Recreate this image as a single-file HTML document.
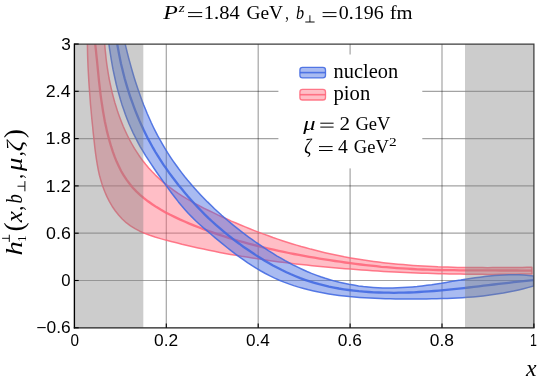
<!DOCTYPE html>
<html><head><meta charset="utf-8"><title>plot</title>
<style>html,body{margin:0;padding:0;background:#fff;}svg{display:block;will-change:transform;}</style></head>
<body>
<svg width="540" height="387" viewBox="0 0 540 387">
<rect width="540" height="387" fill="#fff"/>
<defs><clipPath id="cp"><rect x="74.4" y="44.0" width="459.5" height="283.8"/></clipPath></defs>
<line x1="166.3" y1="44.0" x2="166.3" y2="327.8" stroke="#000" stroke-opacity="0.36" stroke-width="1.2"/>
<line x1="258.2" y1="44.0" x2="258.2" y2="327.8" stroke="#000" stroke-opacity="0.36" stroke-width="1.2"/>
<line x1="350.1" y1="44.0" x2="350.1" y2="327.8" stroke="#000" stroke-opacity="0.36" stroke-width="1.2"/>
<line x1="442.0" y1="44.0" x2="442.0" y2="327.8" stroke="#000" stroke-opacity="0.36" stroke-width="1.2"/>
<line x1="74.4" y1="91.3" x2="533.9" y2="91.3" stroke="#000" stroke-opacity="0.36" stroke-width="1.2"/>
<line x1="74.4" y1="138.6" x2="533.9" y2="138.6" stroke="#000" stroke-opacity="0.36" stroke-width="1.2"/>
<line x1="74.4" y1="185.9" x2="533.9" y2="185.9" stroke="#000" stroke-opacity="0.36" stroke-width="1.2"/>
<line x1="74.4" y1="233.2" x2="533.9" y2="233.2" stroke="#000" stroke-opacity="0.36" stroke-width="1.2"/>
<line x1="74.4" y1="280.5" x2="533.9" y2="280.5" stroke="#000" stroke-opacity="0.36" stroke-width="1.2"/>
<g clip-path="url(#cp)">
<path d="M103.3 30.2L104.7 44.1L105.1 48.9L105.6 53.6L106.1 58.5L106.7 63.3L107.4 68.2L108.2 73.1L109.0 78.0L110.0 82.9L111.1 87.8L112.2 92.7L113.5 97.6L114.8 102.5L116.3 107.3L117.8 112.1L119.5 116.8L121.3 121.5L123.2 126.2L125.2 130.7L127.3 135.2L129.5 139.7L131.9 144.0L134.4 148.3L137.0 152.4L139.7 156.5L142.6 160.5L145.6 164.3L148.7 168.0L152.0 171.6L155.4 175.1L158.9 178.4L162.5 181.6L166.3 184.7L170.2 187.7L174.2 190.6L178.2 193.4L182.4 196.1L186.6 198.7L190.9 201.2L195.3 203.6L199.7 206.0L204.2 208.3L208.7 210.5L213.2 212.7L217.7 214.9L222.3 217.0L226.8 219.0L231.4 221.1L236.0 223.0L240.6 225.0L245.2 226.9L249.8 228.8L254.4 230.6L259.1 232.4L263.7 234.1L268.4 235.8L273.0 237.5L277.7 239.1L282.4 240.7L287.1 242.2L291.8 243.7L296.5 245.1L301.2 246.5L306.0 247.8L310.7 249.1L315.5 250.3L320.2 251.5L325.0 252.7L329.8 253.8L334.6 254.8L339.5 255.8L344.3 256.8L349.2 257.7L354.0 258.5L358.9 259.3L363.8 260.1L368.7 260.8L373.6 261.5L378.5 262.1L383.4 262.7L388.3 263.2L393.3 263.7L398.2 264.2L403.2 264.6L408.1 265.0L413.1 265.4L418.0 265.7L423.0 266.0L428.0 266.3L432.9 266.5L437.9 266.8L442.9 266.9L447.8 267.1L452.8 267.3L457.8 267.4L462.8 267.5L467.7 267.5L472.7 267.6L477.7 267.6L482.6 267.6L487.6 267.7L492.5 267.6L497.5 267.6L502.4 267.6L507.4 267.5L512.3 267.5L517.2 267.4L522.1 267.4L527.0 267.3L531.9 267.2L532.0 274.0L526.5 274.1L521.0 274.1L515.5 274.2L510.0 274.3L504.5 274.3L499.0 274.3L493.5 274.4L488.0 274.4L482.5 274.3L477.0 274.3L471.5 274.3L466.0 274.2L460.5 274.1L455.0 274.0L449.5 273.9L444.0 273.8L438.4 273.7L432.9 273.5L427.4 273.3L421.9 273.2L416.4 273.0L410.9 272.7L405.4 272.5L399.9 272.2L394.4 272.0L388.9 271.7L383.4 271.4L377.9 271.0L372.4 270.7L366.9 270.3L361.5 270.0L356.0 269.6L350.5 269.1L345.0 268.7L339.5 268.3L334.0 267.8L328.6 267.3L323.1 266.8L317.6 266.2L312.2 265.7L306.7 265.1L301.2 264.5L295.8 263.9L290.3 263.3L284.9 262.6L279.4 261.9L274.0 261.2L268.5 260.4L263.1 259.6L257.7 258.8L252.2 258.0L246.8 257.1L241.4 256.3L235.9 255.3L230.5 254.4L225.1 253.4L219.7 252.4L214.3 251.3L208.9 250.2L203.5 249.1L198.1 247.9L192.7 246.7L187.3 245.4L181.9 244.2L176.5 242.8L171.1 241.5L165.7 240.1L160.4 238.6L155.0 237.0L149.8 235.3L144.7 233.4L139.7 231.2L135.0 228.7L130.5 225.9L126.2 222.7L122.2 219.0L118.6 215.0L115.2 210.7L112.1 206.2L109.3 201.4L106.8 196.4L104.6 191.3L102.6 186.1L101.0 180.8L99.5 175.5L98.3 170.1L97.3 164.6L96.4 159.2L95.6 153.7L94.9 148.2L94.3 142.6L93.7 137.1L93.1 131.7L92.6 126.2L92.0 120.7L91.5 115.3L91.0 109.8L90.5 104.4L90.1 98.9L89.7 93.5L89.3 88.1L88.9 82.6L88.6 77.1L88.3 71.7L88.0 66.2L87.8 60.6L87.6 55.1L87.5 49.5L87.4 43.9L87.1 29.9Z" fill="#ff6478" fill-opacity="0.42" stroke="none"/>
<path d="M103.3 30.2L104.7 44.1L105.1 48.9L105.6 53.6L106.1 58.5L106.7 63.3L107.4 68.2L108.2 73.1L109.0 78.0L110.0 82.9L111.1 87.8L112.2 92.7L113.5 97.6L114.8 102.5L116.3 107.3L117.8 112.1L119.5 116.8L121.3 121.5L123.2 126.2L125.2 130.7L127.3 135.2L129.5 139.7L131.9 144.0L134.4 148.3L137.0 152.4L139.7 156.5L142.6 160.5L145.6 164.3L148.7 168.0L152.0 171.6L155.4 175.1L158.9 178.4L162.5 181.6L166.3 184.7L170.2 187.7L174.2 190.6L178.2 193.4L182.4 196.1L186.6 198.7L190.9 201.2L195.3 203.6L199.7 206.0L204.2 208.3L208.7 210.5L213.2 212.7L217.7 214.9L222.3 217.0L226.8 219.0L231.4 221.1L236.0 223.0L240.6 225.0L245.2 226.9L249.8 228.8L254.4 230.6L259.1 232.4L263.7 234.1L268.4 235.8L273.0 237.5L277.7 239.1L282.4 240.7L287.1 242.2L291.8 243.7L296.5 245.1L301.2 246.5L306.0 247.8L310.7 249.1L315.5 250.3L320.2 251.5L325.0 252.7L329.8 253.8L334.6 254.8L339.5 255.8L344.3 256.8L349.2 257.7L354.0 258.5L358.9 259.3L363.8 260.1L368.7 260.8L373.6 261.5L378.5 262.1L383.4 262.7L388.3 263.2L393.3 263.7L398.2 264.2L403.2 264.6L408.1 265.0L413.1 265.4L418.0 265.7L423.0 266.0L428.0 266.3L432.9 266.5L437.9 266.8L442.9 266.9L447.8 267.1L452.8 267.3L457.8 267.4L462.8 267.5L467.7 267.5L472.7 267.6L477.7 267.6L482.6 267.6L487.6 267.7L492.5 267.6L497.5 267.6L502.4 267.6L507.4 267.5L512.3 267.5L517.2 267.4L522.1 267.4L527.0 267.3L531.9 267.2L532.0 274.0L526.5 274.1L521.0 274.1L515.5 274.2L510.0 274.3L504.5 274.3L499.0 274.3L493.5 274.4L488.0 274.4L482.5 274.3L477.0 274.3L471.5 274.3L466.0 274.2L460.5 274.1L455.0 274.0L449.5 273.9L444.0 273.8L438.4 273.7L432.9 273.5L427.4 273.3L421.9 273.2L416.4 273.0L410.9 272.7L405.4 272.5L399.9 272.2L394.4 272.0L388.9 271.7L383.4 271.4L377.9 271.0L372.4 270.7L366.9 270.3L361.5 270.0L356.0 269.6L350.5 269.1L345.0 268.7L339.5 268.3L334.0 267.8L328.6 267.3L323.1 266.8L317.6 266.2L312.2 265.7L306.7 265.1L301.2 264.5L295.8 263.9L290.3 263.3L284.9 262.6L279.4 261.9L274.0 261.2L268.5 260.4L263.1 259.6L257.7 258.8L252.2 258.0L246.8 257.1L241.4 256.3L235.9 255.3L230.5 254.4L225.1 253.4L219.7 252.4L214.3 251.3L208.9 250.2L203.5 249.1L198.1 247.9L192.7 246.7L187.3 245.4L181.9 244.2L176.5 242.8L171.1 241.5L165.7 240.1L160.4 238.6L155.0 237.0L149.8 235.3L144.7 233.4L139.7 231.2L135.0 228.7L130.5 225.9L126.2 222.7L122.2 219.0L118.6 215.0L115.2 210.7L112.1 206.2L109.3 201.4L106.8 196.4L104.6 191.3L102.6 186.1L101.0 180.8L99.5 175.5L98.3 170.1L97.3 164.6L96.4 159.2L95.6 153.7L94.9 148.2L94.3 142.6L93.7 137.1L93.1 131.7L92.6 126.2L92.0 120.7L91.5 115.3L91.0 109.8L90.5 104.4L90.1 98.9L89.7 93.5L89.3 88.1L88.9 82.6L88.6 77.1L88.3 71.7L88.0 66.2L87.8 60.6L87.6 55.1L87.5 49.5L87.4 43.9L87.1 29.9Z" fill="none" stroke="#ff6478" stroke-opacity="0.85" stroke-width="1.5" stroke-linejoin="round"/>
<path d="M93.8 30.1L95.2 44.0L95.8 49.2L96.3 54.4L96.9 59.6L97.4 64.8L97.9 69.9L98.4 75.1L98.9 80.2L99.5 85.4L100.1 90.5L100.7 95.6L101.4 100.7L102.2 105.8L103.0 111.0L103.9 116.1L104.8 121.2L105.9 126.3L107.0 131.4L108.3 136.5L109.7 141.6L111.2 146.7L112.8 151.7L114.6 156.7L116.6 161.6L118.8 166.3L121.1 171.0L123.7 175.4L126.5 179.7L129.6 183.8L132.8 187.7L136.3 191.4L140.0 194.8L143.9 198.1L148.0 201.3L152.2 204.3L156.5 207.1L161.0 209.8L165.6 212.4L170.2 214.8L175.0 217.1L179.7 219.4L184.6 221.5L189.4 223.6L194.3 225.6L199.2 227.5L204.0 229.4L208.9 231.2L213.8 232.9L218.7 234.6L223.6 236.2L228.6 237.8L233.5 239.3L238.4 240.8L243.4 242.2L248.4 243.6L253.4 244.9L258.4 246.2L263.4 247.4L268.5 248.6L273.5 249.7L278.6 250.8L283.7 251.9L288.8 253.0L293.9 254.0L299.0 254.9L304.1 255.9L309.2 256.8L314.4 257.7L319.5 258.6L324.6 259.4L329.8 260.2L334.9 261.0L340.1 261.7L345.2 262.5L350.4 263.2L355.5 263.9L360.7 264.5L365.8 265.1L371.0 265.7L376.2 266.2L381.3 266.8L386.5 267.2L391.7 267.7L396.9 268.1L402.1 268.4L407.2 268.7L412.4 269.0L417.6 269.3L422.8 269.5L428.0 269.7L433.2 269.8L438.4 270.0L443.6 270.1L448.8 270.2L454.0 270.2L459.2 270.3L464.4 270.3L469.6 270.4L474.8 270.4L480.0 270.4L485.2 270.4L490.4 270.4L495.6 270.4L500.8 270.5L506.0 270.5L511.2 270.5L516.4 270.5L521.6 270.6L526.8 270.6L532.0 270.7" fill="none" stroke="#ff6478" stroke-opacity="0.85" stroke-width="2.3"/>

<path d="M121.8 30.4L125.2 44.0L126.3 48.7L127.5 53.5L128.7 58.2L130.0 62.9L131.3 67.6L132.6 72.3L134.0 77.0L135.5 81.7L137.0 86.3L138.6 91.0L140.2 95.6L141.9 100.2L143.6 104.7L145.5 109.3L147.3 113.8L149.3 118.3L151.3 122.8L153.4 127.2L155.6 131.6L157.8 135.9L160.2 140.2L162.6 144.4L165.1 148.6L167.6 152.7L170.3 156.8L173.0 160.8L175.8 164.8L178.7 168.8L181.6 172.6L184.6 176.5L187.7 180.3L190.9 184.0L194.1 187.7L197.3 191.3L200.7 194.9L204.1 198.4L207.5 201.9L211.0 205.3L214.5 208.7L218.1 212.0L221.7 215.3L225.4 218.5L229.1 221.7L232.9 224.8L236.7 227.9L240.5 230.9L244.4 233.9L248.3 236.8L252.3 239.7L256.2 242.5L260.3 245.2L264.3 247.9L268.4 250.6L272.6 253.2L276.7 255.8L280.9 258.2L285.2 260.7L289.5 263.0L293.8 265.3L298.2 267.4L302.6 269.5L307.0 271.5L311.5 273.4L316.1 275.1L320.7 276.8L325.3 278.3L330.0 279.7L334.7 281.1L339.4 282.3L344.1 283.3L348.9 284.3L353.7 285.1L358.6 285.9L363.4 286.5L368.3 287.0L373.2 287.4L378.0 287.7L382.9 287.9L387.8 288.0L392.7 287.9L397.6 287.8L402.5 287.6L407.4 287.3L412.3 286.9L417.1 286.5L422.0 285.9L426.9 285.3L431.7 284.7L436.5 283.9L441.4 283.2L446.2 282.4L451.0 281.6L455.8 280.8L460.7 280.1L465.5 279.3L470.3 278.6L475.1 277.8L480.0 277.2L484.8 276.6L489.6 276.1L494.5 275.6L499.3 275.2L504.2 274.9L509.1 274.8L514.0 274.7L518.9 274.8L523.8 275.0L528.7 275.4L533.7 275.9L533.6 286.0L528.6 287.4L523.6 288.7L518.6 289.9L513.6 291.0L508.5 292.0L503.4 293.0L498.4 293.8L493.3 294.6L488.2 295.3L483.1 295.9L478.0 296.4L472.8 296.9L467.7 297.3L462.6 297.7L457.4 298.0L452.3 298.2L447.1 298.5L442.0 298.6L436.8 298.8L431.7 298.8L426.5 298.9L421.3 298.9L416.2 299.0L411.0 299.0L405.8 298.9L400.7 298.9L395.5 298.9L390.4 298.8L385.2 298.7L380.1 298.5L374.9 298.3L369.8 298.1L364.7 297.8L359.5 297.4L354.4 297.0L349.3 296.6L344.1 296.0L339.0 295.4L333.9 294.7L328.8 293.9L323.7 293.0L318.6 292.1L313.6 291.0L308.5 289.8L303.6 288.5L298.6 287.1L293.7 285.6L288.8 283.9L284.0 282.1L279.3 280.2L274.6 278.1L270.0 275.9L265.4 273.5L260.9 271.0L256.5 268.4L252.1 265.7L247.8 262.9L243.6 259.9L239.3 256.9L235.2 253.8L231.0 250.7L227.0 247.5L222.9 244.2L218.9 240.9L214.9 237.6L211.0 234.3L207.1 230.9L203.2 227.6L199.4 224.2L195.6 220.7L192.0 217.1L188.4 213.5L185.0 209.7L181.6 205.8L178.4 201.9L175.2 197.8L172.1 193.7L169.0 189.5L166.0 185.4L163.0 181.2L160.0 177.0L157.0 172.7L154.1 168.5L151.2 164.2L148.4 159.9L145.6 155.6L142.9 151.2L140.3 146.8L137.9 142.3L135.5 137.7L133.2 133.1L131.1 128.5L129.0 123.8L127.1 119.0L125.3 114.2L123.6 109.3L121.9 104.4L120.4 99.5L119.0 94.5L117.6 89.6L116.3 84.5L115.2 79.5L114.1 74.5L113.0 69.4L112.1 64.3L111.2 59.2L110.4 54.2L109.6 49.1L108.9 44.0L106.7 30.2Z" fill="#4169e1" fill-opacity="0.45" stroke="none"/>
<path d="M121.8 30.4L125.2 44.0L126.3 48.7L127.5 53.5L128.7 58.2L130.0 62.9L131.3 67.6L132.6 72.3L134.0 77.0L135.5 81.7L137.0 86.3L138.6 91.0L140.2 95.6L141.9 100.2L143.6 104.7L145.5 109.3L147.3 113.8L149.3 118.3L151.3 122.8L153.4 127.2L155.6 131.6L157.8 135.9L160.2 140.2L162.6 144.4L165.1 148.6L167.6 152.7L170.3 156.8L173.0 160.8L175.8 164.8L178.7 168.8L181.6 172.6L184.6 176.5L187.7 180.3L190.9 184.0L194.1 187.7L197.3 191.3L200.7 194.9L204.1 198.4L207.5 201.9L211.0 205.3L214.5 208.7L218.1 212.0L221.7 215.3L225.4 218.5L229.1 221.7L232.9 224.8L236.7 227.9L240.5 230.9L244.4 233.9L248.3 236.8L252.3 239.7L256.2 242.5L260.3 245.2L264.3 247.9L268.4 250.6L272.6 253.2L276.7 255.8L280.9 258.2L285.2 260.7L289.5 263.0L293.8 265.3L298.2 267.4L302.6 269.5L307.0 271.5L311.5 273.4L316.1 275.1L320.7 276.8L325.3 278.3L330.0 279.7L334.7 281.1L339.4 282.3L344.1 283.3L348.9 284.3L353.7 285.1L358.6 285.9L363.4 286.5L368.3 287.0L373.2 287.4L378.0 287.7L382.9 287.9L387.8 288.0L392.7 287.9L397.6 287.8L402.5 287.6L407.4 287.3L412.3 286.9L417.1 286.5L422.0 285.9L426.9 285.3L431.7 284.7L436.5 283.9L441.4 283.2L446.2 282.4L451.0 281.6L455.8 280.8L460.7 280.1L465.5 279.3L470.3 278.6L475.1 277.8L480.0 277.2L484.8 276.6L489.6 276.1L494.5 275.6L499.3 275.2L504.2 274.9L509.1 274.8L514.0 274.7L518.9 274.8L523.8 275.0L528.7 275.4L533.7 275.9L533.6 286.0L528.6 287.4L523.6 288.7L518.6 289.9L513.6 291.0L508.5 292.0L503.4 293.0L498.4 293.8L493.3 294.6L488.2 295.3L483.1 295.9L478.0 296.4L472.8 296.9L467.7 297.3L462.6 297.7L457.4 298.0L452.3 298.2L447.1 298.5L442.0 298.6L436.8 298.8L431.7 298.8L426.5 298.9L421.3 298.9L416.2 299.0L411.0 299.0L405.8 298.9L400.7 298.9L395.5 298.9L390.4 298.8L385.2 298.7L380.1 298.5L374.9 298.3L369.8 298.1L364.7 297.8L359.5 297.4L354.4 297.0L349.3 296.6L344.1 296.0L339.0 295.4L333.9 294.7L328.8 293.9L323.7 293.0L318.6 292.1L313.6 291.0L308.5 289.8L303.6 288.5L298.6 287.1L293.7 285.6L288.8 283.9L284.0 282.1L279.3 280.2L274.6 278.1L270.0 275.9L265.4 273.5L260.9 271.0L256.5 268.4L252.1 265.7L247.8 262.9L243.6 259.9L239.3 256.9L235.2 253.8L231.0 250.7L227.0 247.5L222.9 244.2L218.9 240.9L214.9 237.6L211.0 234.3L207.1 230.9L203.2 227.6L199.4 224.2L195.6 220.7L192.0 217.1L188.4 213.5L185.0 209.7L181.6 205.8L178.4 201.9L175.2 197.8L172.1 193.7L169.0 189.5L166.0 185.4L163.0 181.2L160.0 177.0L157.0 172.7L154.1 168.5L151.2 164.2L148.4 159.9L145.6 155.6L142.9 151.2L140.3 146.8L137.9 142.3L135.5 137.7L133.2 133.1L131.1 128.5L129.0 123.8L127.1 119.0L125.3 114.2L123.6 109.3L121.9 104.4L120.4 99.5L119.0 94.5L117.6 89.6L116.3 84.5L115.2 79.5L114.1 74.5L113.0 69.4L112.1 64.3L111.2 59.2L110.4 54.2L109.6 49.1L108.9 44.0L106.7 30.2Z" fill="none" stroke="#4169e1" stroke-opacity="0.88" stroke-width="1.5" stroke-linejoin="round"/>
<path d="M114.6 30.2L117.2 44.0L118.1 48.9L119.0 53.8L120.0 58.8L121.0 63.7L122.2 68.5L123.4 73.4L124.6 78.3L126.0 83.1L127.4 87.9L128.9 92.7L130.5 97.5L132.2 102.2L133.9 106.9L135.7 111.6L137.6 116.3L139.5 120.9L141.6 125.4L143.7 130.0L145.9 134.5L148.1 138.9L150.5 143.3L152.9 147.7L155.4 152.0L158.0 156.2L160.7 160.4L163.4 164.6L166.3 168.7L169.2 172.8L172.1 176.8L175.2 180.8L178.2 184.7L181.4 188.6L184.6 192.5L187.8 196.3L191.1 200.0L194.5 203.8L197.9 207.4L201.4 211.0L204.9 214.6L208.5 218.1L212.2 221.5L215.9 224.9L219.7 228.2L223.5 231.4L227.4 234.6L231.3 237.7L235.2 240.8L239.3 243.7L243.3 246.7L247.5 249.5L251.6 252.3L255.8 255.1L260.1 257.8L264.3 260.4L268.7 262.9L273.0 265.4L277.5 267.7L281.9 270.0L286.4 272.2L291.0 274.3L295.6 276.2L300.2 278.1L304.9 279.8L309.6 281.4L314.4 282.8L319.2 284.2L324.1 285.4L329.0 286.6L333.9 287.6L338.8 288.5L343.8 289.3L348.8 290.0L353.8 290.6L358.8 291.2L363.8 291.6L368.8 292.0L373.8 292.3L378.9 292.5L383.9 292.7L388.9 292.7L393.9 292.8L398.9 292.7L403.9 292.6L408.9 292.5L413.9 292.3L418.9 292.0L423.9 291.7L428.9 291.4L433.9 291.0L438.9 290.6L443.9 290.1L448.9 289.6L453.8 289.1L458.8 288.6L463.8 288.1L468.8 287.5L473.8 286.9L478.8 286.3L483.7 285.7L488.7 285.1L493.7 284.5L498.7 283.9L503.7 283.4L508.7 282.8L513.6 282.2L518.6 281.6L523.6 281.1L528.6 280.6L533.6 280.1" fill="none" stroke="#4169e1" stroke-opacity="0.88" stroke-width="2.3"/>

<rect x="74.4" y="44.0" width="68.9" height="283.8" fill="#808080" fill-opacity="0.4"/>
<rect x="465.0" y="44.0" width="68.9" height="283.8" fill="#808080" fill-opacity="0.4"/>
</g>
<rect x="278.4" y="54.5" width="143.9" height="113.9" fill="#fff"/>
<path d="M74.4 44.0H533.9V327.8" fill="none" stroke="#3c3c3c" stroke-width="1.25"/>
<path d="M74.4 43.4V328.40000000000003" fill="none" stroke="#000" stroke-width="1.35"/>
<path d="M73.80000000000001 327.8H534.5" fill="none" stroke="#1c1c1c" stroke-width="1.3"/>
<line x1="166.3" y1="327.8" x2="166.3" y2="323.5" stroke="#000" stroke-width="1.1"/>
<line x1="258.2" y1="327.8" x2="258.2" y2="323.5" stroke="#000" stroke-width="1.1"/>
<line x1="350.1" y1="327.8" x2="350.1" y2="323.5" stroke="#000" stroke-width="1.1"/>
<line x1="442.0" y1="327.8" x2="442.0" y2="323.5" stroke="#000" stroke-width="1.1"/>
<line x1="533.9" y1="327.8" x2="533.9" y2="323.5" stroke="#000" stroke-width="1.1"/>
<line x1="74.4" y1="44.0" x2="78.7" y2="44.0" stroke="#000" stroke-width="1.1"/>
<line x1="74.4" y1="91.3" x2="78.7" y2="91.3" stroke="#000" stroke-width="1.1"/>
<line x1="74.4" y1="138.6" x2="78.7" y2="138.6" stroke="#000" stroke-width="1.1"/>
<line x1="74.4" y1="185.9" x2="78.7" y2="185.9" stroke="#000" stroke-width="1.1"/>
<line x1="74.4" y1="233.2" x2="78.7" y2="233.2" stroke="#000" stroke-width="1.1"/>
<line x1="74.4" y1="280.5" x2="78.7" y2="280.5" stroke="#000" stroke-width="1.1"/>
<line x1="74.4" y1="327.8" x2="78.7" y2="327.8" stroke="#000" stroke-width="1.1"/>
<path d="M188.0 12.6H202.2M188.0 16.6H202.2" fill="none" stroke="#000" stroke-width="1.0"/>
<path d="M305.3 22.0h9.3M309.9 22.0v-6.7" fill="none" stroke="#000" stroke-width="0.95"/>
<path d="M322.6 12.6H336.5M322.6 16.6H336.5" fill="none" stroke="#000" stroke-width="1.0"/>
<rect x="299.9" y="67.3" width="25.6" height="10.6" rx="2.6" fill="#4169e1" fill-opacity="0.45" stroke="#4169e1" stroke-opacity="0.88" stroke-width="1.3"/><line x1="299.9" y1="72.6" x2="325.5" y2="72.6" stroke="#4169e1" stroke-opacity="0.88" stroke-width="1.6"/>
<rect x="299.9" y="89.4" width="25.6" height="10.6" rx="2.6" fill="#ff6478" fill-opacity="0.42" stroke="#ff6478" stroke-opacity="0.85" stroke-width="1.3"/><line x1="299.9" y1="94.7" x2="325.5" y2="94.7" stroke="#ff6478" stroke-opacity="0.85" stroke-width="1.6"/>
<path d="M320.3 123.2H333.6M320.3 127.1H333.6" fill="none" stroke="#000" stroke-width="1.0"/>
<path d="M319.0 146.6H332.6M319.0 150.5H332.6" fill="none" stroke="#000" stroke-width="1.0"/>
<text x="61.25" y="49.6" font-size="15.6" font-family="Liberation Sans, sans-serif" textLength="9.60" lengthAdjust="spacingAndGlyphs" fill="#000">3</text>
<text x="45.84" y="96.9" font-size="15.6" font-family="Liberation Sans, sans-serif" textLength="24.75" lengthAdjust="spacingAndGlyphs" fill="#000">2.4</text>
<text x="45.53" y="144.2" font-size="15.6" font-family="Liberation Sans, sans-serif" textLength="25.37" lengthAdjust="spacingAndGlyphs" fill="#000">1.8</text>
<text x="45.53" y="191.5" font-size="15.6" font-family="Liberation Sans, sans-serif" textLength="25.37" lengthAdjust="spacingAndGlyphs" fill="#000">1.2</text>
<text x="46.13" y="238.8" font-size="15.6" font-family="Liberation Sans, sans-serif" textLength="24.75" lengthAdjust="spacingAndGlyphs" fill="#000">0.6</text>
<text x="61.26" y="286.1" font-size="15.6" font-family="Liberation Sans, sans-serif" textLength="9.29" lengthAdjust="spacingAndGlyphs" fill="#000">0</text>
<text x="36.36" y="333.4" font-size="15.6" font-family="Liberation Sans, sans-serif" textLength="34.34" lengthAdjust="spacingAndGlyphs" fill="#000">−0.6</text>
<text x="70.51" y="346.3" font-size="15.6" font-family="Liberation Sans, sans-serif" textLength="8.51" lengthAdjust="spacingAndGlyphs" fill="#000">0</text>
<text x="154.04" y="346.3" font-size="15.6" font-family="Liberation Sans, sans-serif" textLength="24.12" lengthAdjust="spacingAndGlyphs" fill="#000">0.2</text>
<text x="245.95" y="346.3" font-size="15.6" font-family="Liberation Sans, sans-serif" textLength="23.83" lengthAdjust="spacingAndGlyphs" fill="#000">0.4</text>
<text x="337.84" y="346.3" font-size="15.6" font-family="Liberation Sans, sans-serif" textLength="24.12" lengthAdjust="spacingAndGlyphs" fill="#000">0.6</text>
<text x="429.74" y="346.3" font-size="15.6" font-family="Liberation Sans, sans-serif" textLength="24.12" lengthAdjust="spacingAndGlyphs" fill="#000">0.8</text>
<text x="530.10" y="346.3" font-size="15.6" font-family="Liberation Sans, sans-serif" textLength="6.94" lengthAdjust="spacingAndGlyphs" fill="#000">1</text>
<text x="526.05" y="375.8" font-size="23.5" font-family="Liberation Serif, serif" font-style="italic" textLength="10.53" lengthAdjust="spacingAndGlyphs" fill="#000">x</text>
<text x="163.33" y="19.3" font-size="17.8" font-family="Liberation Serif, serif" font-style="italic" textLength="14.56" lengthAdjust="spacingAndGlyphs" fill="#000">P</text>
<text x="178.73" y="12.0" font-size="11.8" font-family="Liberation Serif, serif" font-style="italic" textLength="6.00" lengthAdjust="spacingAndGlyphs" fill="#000">z</text>
<text x="203.87" y="19.3" font-size="17.8" font-family="Liberation Serif, serif" textLength="35.90" lengthAdjust="spacingAndGlyphs" fill="#000">1.84</text>
<text x="246.48" y="19.3" font-size="17.8" font-family="Liberation Serif, serif" textLength="36.63" lengthAdjust="spacingAndGlyphs" fill="#000">GeV</text>
<text x="285.20" y="19.3" font-size="17.8" font-family="Liberation Serif, serif" textLength="3.56" lengthAdjust="spacingAndGlyphs" fill="#000">,</text>
<text x="295.94" y="19.3" font-size="17.8" font-family="Liberation Serif, serif" font-style="italic" textLength="8.12" lengthAdjust="spacingAndGlyphs" fill="#000">b</text>
<text x="338.84" y="19.3" font-size="17.8" font-family="Liberation Serif, serif" textLength="44.87" lengthAdjust="spacingAndGlyphs" fill="#000">0.196</text>
<text x="389.72" y="19.3" font-size="17.8" font-family="Liberation Serif, serif" textLength="22.89" lengthAdjust="spacingAndGlyphs" fill="#000">fm</text>
<text x="333.55" y="77.9" font-size="20.0" font-family="Liberation Serif, serif" textLength="64.57" lengthAdjust="spacingAndGlyphs" fill="#000">nucleon</text>
<text x="333.54" y="99.5" font-size="20.0" font-family="Liberation Serif, serif" textLength="36.68" lengthAdjust="spacingAndGlyphs" fill="#000">pion</text>
<text x="303.30" y="129.6" font-size="17.8" font-family="Liberation Serif, serif" font-style="italic" textLength="12.30" lengthAdjust="spacingAndGlyphs" fill="#000">μ</text>
<text x="339.40" y="129.8" font-size="19.8" font-family="Liberation Serif, serif" textLength="10.56" lengthAdjust="spacingAndGlyphs" fill="#000">2</text>
<text x="355.40" y="129.8" font-size="19.8" font-family="Liberation Serif, serif" textLength="35.03" lengthAdjust="spacingAndGlyphs" fill="#000">GeV</text>
<text x="304.19" y="153.0" font-size="21.5" font-family="Liberation Serif, serif" font-style="italic" textLength="7.05" lengthAdjust="spacingAndGlyphs" fill="#000">ζ</text>
<text x="337.95" y="153.2" font-size="19.8" font-family="Liberation Serif, serif" textLength="9.79" lengthAdjust="spacingAndGlyphs" fill="#000">4</text>
<text x="353.80" y="153.2" font-size="19.8" font-family="Liberation Serif, serif" textLength="35.03" lengthAdjust="spacingAndGlyphs" fill="#000">GeV</text>
<text x="388.99" y="146.4" font-size="12.6" font-family="Liberation Serif, serif" textLength="7.68" lengthAdjust="spacingAndGlyphs" fill="#000">2</text>
<g transform="translate(21.7 254.5) rotate(-90)">
<path d="M12.6 -12.4h7.2M16.2 -12.4v-7.2" fill="none" stroke="#000" stroke-width="0.95"/>
<path d="M63.2 3.2h10.2M68.3 3.2v-7.4" fill="none" stroke="#000" stroke-width="0.95"/>
<text x="-0.95" y="0.0" font-size="22.5" font-family="Liberation Serif, serif" font-style="italic" textLength="14.31" lengthAdjust="spacingAndGlyphs" fill="#000">h</text>
<text x="12.59" y="4.1" font-size="13.0" font-family="Liberation Serif, serif" textLength="6.57" lengthAdjust="spacingAndGlyphs" fill="#000">1</text>
<text x="22.98" y="0.8" font-size="27.0" font-family="Liberation Serif, serif" textLength="9.18" lengthAdjust="spacingAndGlyphs" fill="#000">(</text>
<text x="32.28" y="0.0" font-size="22.5" font-family="Liberation Serif, serif" font-style="italic" textLength="11.11" lengthAdjust="spacingAndGlyphs" fill="#000">x</text>
<text x="43.74" y="0.0" font-size="22.5" font-family="Liberation Serif, serif" textLength="4.98" lengthAdjust="spacingAndGlyphs" fill="#000">,</text>
<text x="51.09" y="0.0" font-size="22.5" font-family="Liberation Serif, serif" font-style="italic" textLength="9.22" lengthAdjust="spacingAndGlyphs" fill="#000">b</text>
<text x="75.76" y="0.0" font-size="22.5" font-family="Liberation Serif, serif" textLength="4.82" lengthAdjust="spacingAndGlyphs" fill="#000">,</text>
<text x="83.40" y="0.0" font-size="22.5" font-family="Liberation Serif, serif" font-style="italic" textLength="13.34" lengthAdjust="spacingAndGlyphs" fill="#000">μ</text>
<text x="98.24" y="0.0" font-size="22.5" font-family="Liberation Serif, serif" textLength="4.98" lengthAdjust="spacingAndGlyphs" fill="#000">,</text>
<text x="103.23" y="0.0" font-size="22.5" font-family="Liberation Serif, serif" font-style="italic" textLength="10.56" lengthAdjust="spacingAndGlyphs" fill="#000">ζ</text>
<text x="116.23" y="0.8" font-size="27.0" font-family="Liberation Serif, serif" textLength="9.18" lengthAdjust="spacingAndGlyphs" fill="#000">)</text>
</g>
</svg>
</body></html>
